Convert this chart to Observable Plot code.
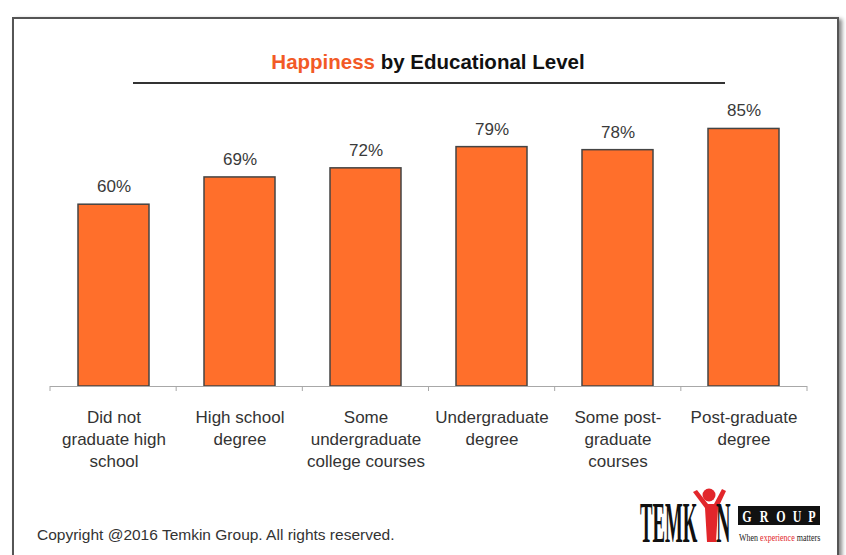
<!DOCTYPE html>
<html>
<head>
<meta charset="utf-8">
<script src="https://cdn.jsdelivr.net/npm/d3@7"></script>
<script src="https://cdn.jsdelivr.net/npm/@observablehq/plot@0.6"></script>
<style>
  html, body { margin: 0; padding: 0; background: #fff; }
  #page { position: relative; width: 846px; height: 555px; overflow: hidden; font-family: "Liberation Sans", Arial, sans-serif; }
  #frame { position: absolute; left: 12px; top: 17px; width: 823px; height: 620px; border: 2px solid #555; box-shadow: 3px 2px 4px #888; background: #fff; }
  #title { position: absolute; left: 128px; width: 600px; top: 50px; line-height: 24px; text-align: center; font-size: 20.5px; font-weight: bold; color: #111; }
  #title .hl { color: #f25a26; }
  #rule { position: absolute; left: 133px; top: 82px; width: 592px; height: 2px; background: #333; }
  #copy { position: absolute; left: 37px; top: 525px; line-height: 20px; font-size: 15.5px; color: #333; }
  #chart { position: absolute; left: 0; top: 0; }
  #logo { position: absolute; left: 0; top: 0; }
</style>
</head>
<body>
<div id="page">
  <div id="frame"></div>
  <div id="chart"></div>
  <div id="title"><span class="hl">Happiness</span> by Educational Level</div>
  <div id="rule"></div>
  <div id="copy">Copyright @2016 Temkin Group. All rights reserved.</div>
  <svg id="logo" width="846" height="555" style="pointer-events:none">
    <g transform="translate(640,542) scale(0.335,1)">
      <text x="0" y="0" font-family="Liberation Serif, serif" font-weight="bold" font-size="56" fill="#111">TEMK</text>
    </g>
    <circle cx="709" cy="495" r="6.5" fill="#e2262b"/>
    <path d="M693,492 L697,490 L708,504 L714,504 L722,489 L726,491 L718,508 L716,542 L707,542 L705,508 Z" fill="#e2262b"/>
    <g transform="translate(716,542) scale(0.36,1)">
      <text x="0" y="0" font-family="Liberation Serif, serif" font-weight="bold" font-size="56" fill="#111">N</text>
    </g>
    <rect x="738" y="506" width="82" height="19" fill="#111"/>
    <g font-family="Liberation Serif, serif" font-weight="bold" font-size="16" fill="#fff" text-anchor="middle">
      <g transform="translate(747,522) scale(0.75,1)"><text>G</text></g>
      <g transform="translate(764,522) scale(0.75,1)"><text>R</text></g>
      <g transform="translate(781,522) scale(0.75,1)"><text>O</text></g>
      <g transform="translate(797,522) scale(0.75,1)"><text>U</text></g>
      <g transform="translate(812,522) scale(0.75,1)"><text>P</text></g>
    </g>
    <g transform="translate(739,541) scale(0.8,1)">
      <text x="0" y="0" font-family="Liberation Serif, serif" font-size="10" fill="#222">When <tspan fill="#e2262b">experience</tspan> matters</text>
    </g>
  </svg>
</div>
<script>
const categories = [
  "Did not graduate high school",
  "High school degree",
  "Some undergraduate college courses",
  "Undergraduate degree",
  "Some post-graduate courses",
  "Post-graduate degree"
];
const tickLabels = [
  "Did not\ngraduate high\nschool",
  "High school\ndegree",
  "Some\nundergraduate\ncollege courses",
  "Undergraduate\ndegree",
  "Some post-\ngraduate\ncourses",
  "Post-graduate\ndegree"
];
const values = [60, 69, 72, 79, 78, 85];

const data = categories.map((c, i) => ({category: c, value: values[i]}));
const labelOf = new Map(categories.map((c, i) => [c, tickLabels[i]]));

function boundaryTicks(index, scales, vals, dimensions) {
  const {marginLeft, marginRight, width} = dimensions;
  const n = categories.length;
  const step = (width - marginLeft - marginRight) / n;
  const y0 = scales.y(0);
  const g = d3.create("svg:g").attr("stroke", "#a8a8a8").attr("stroke-width", 1);
  for (let k = 0; k <= n; ++k) {
    const x = marginLeft + k * step;
    g.append("line").attr("x1", x).attr("x2", x).attr("y1", y0).attr("y2", y0 + 5);
  }
  return g.node();
}

const plot = Plot.plot({
  width: 846,
  height: 555,
  marginLeft: 50,
  marginRight: 39,
  marginTop: 83,
  marginBottom: 169,
  style: {background: "transparent", fontFamily: "Liberation Sans, Arial, sans-serif", overflow: "visible"},
  x: {domain: categories, paddingInner: 0.44, paddingOuter: 0.22, axis: null, label: null},
  y: {domain: [0, 100], axis: null},
  marks: [
    Plot.barY(data, {x: "category", y: "value", fill: "#ff6f2b", stroke: "#444", strokeWidth: 1.5}),
    Plot.ruleY([0], {stroke: "#a8a8a8", strokeWidth: 1.2}),
    boundaryTicks,
    Plot.text(data, {x: "category", y: "value", text: d => d.value + "%", dy: -18, fontSize: 17, fill: "#3a3a3a"}),
    Plot.axisX({tickSize: 0, tickPadding: 21, fontSize: 17, lineHeight: 1.3, fill: "#333", label: null, tickFormat: d => labelOf.get(d)})
  ]
});
document.getElementById("chart").appendChild(plot);
</script>
</body>
</html>
